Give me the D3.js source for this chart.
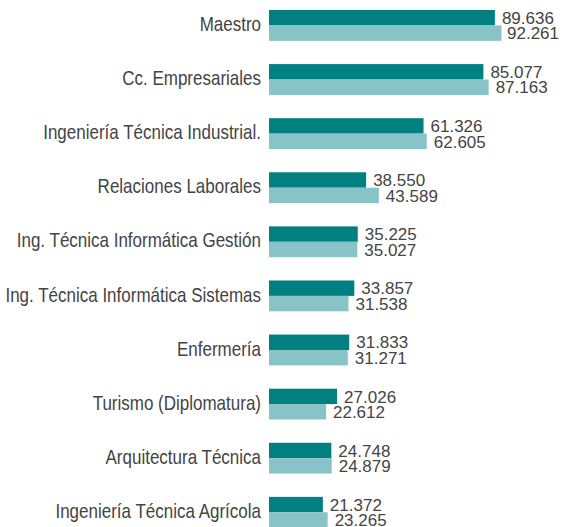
<!DOCTYPE html>
<html>
<head>
<meta charset="utf-8">
<script src="https://cdn.jsdelivr.net/npm/d3@7"></script>
<style>
  body { margin: 0; background: #fff; }
  text { font-family: "Liberation Sans", Arial, sans-serif; fill: #444; }
</style>
</head>
<body>
<div class="chart"></div>
<script>
// categories and the two series
const categories = ["Maestro", "Cc. Empresariales", "Ingeniería Técnica Industrial.",
  "Relaciones Laborales", "Ing. Técnica Informática Gestión", "Ing. Técnica Informática Sistemas",
  "Enfermería", "Turismo (Diplomatura)", "Arquitectura Técnica", "Ingeniería Técnica Agrícola"];
const serieA = [89.636, 85.077, 61.326, 38.550, 35.225, 33.857, 31.833, 27.026, 24.748, 21.372];
const serieB = [92.261, 87.163, 62.605, 43.589, 35.027, 31.538, 31.271, 22.612, 24.879, 23.265];
const colors = ["#008080", "#88c3c8"];

const width = 562, height = 527;
const squeezeCat = 0.85;   // the original face for names is a narrow one

const svg = d3.select(".chart").append("svg")
    .attr("width", width)
    .attr("height", height);

const x = d3.scaleLinear().domain([0, 100]).range([269, 521]);
const y = d3.scaleBand().domain(categories).range([10, 527.7]).paddingInner(0.43).paddingOuter(0);
const sub = d3.scaleBand().domain([0, 1]).range([0, y.bandwidth()]);

const rows = categories.map((c, i) => ({cat: c, vals: [serieA[i], serieB[i]]}));

const g = svg.selectAll("g.row")
  .data(rows)
  .join("g")
    .attr("class", "row")
    .attr("transform", d => `translate(0,${y(d.cat)})`);

g.selectAll("rect")
  .data(d => d.vals)
  .join("rect")
    .attr("x", x(0))
    .attr("y", (d, i) => sub(i))
    .attr("width", d => x(d) - x(0))
    .attr("height", sub.bandwidth())
    .attr("fill", (d, i) => colors[i]);

// category names
g.append("text")
    .attr("transform", `translate(${x(0) - 8},${y.bandwidth() / 2}) scale(${squeezeCat},1)`)
    .attr("dy", "0.28em")
    .attr("text-anchor", "end")
    .style("font-size", "20px")
    .text(d => d.cat);

// value labels, pushed back inside when they run past the edge
const fmt = v => v.toFixed(3);
g.selectAll("text.val")
  .data(d => d.vals)
  .join("text")
    .attr("class", "val")
    .style("font-size", "17px")
    .text(fmt)
    .each(function(d, i) {
      const w = this.getComputedTextLength();
      let left = x(d) + 7;
      if (left + w > 559) left = 559 - w;
      d3.select(this)
        .attr("x", left)
        .attr("y", sub(i) + sub.bandwidth() - 1.5);
    });
</script>
</body>
</html>
